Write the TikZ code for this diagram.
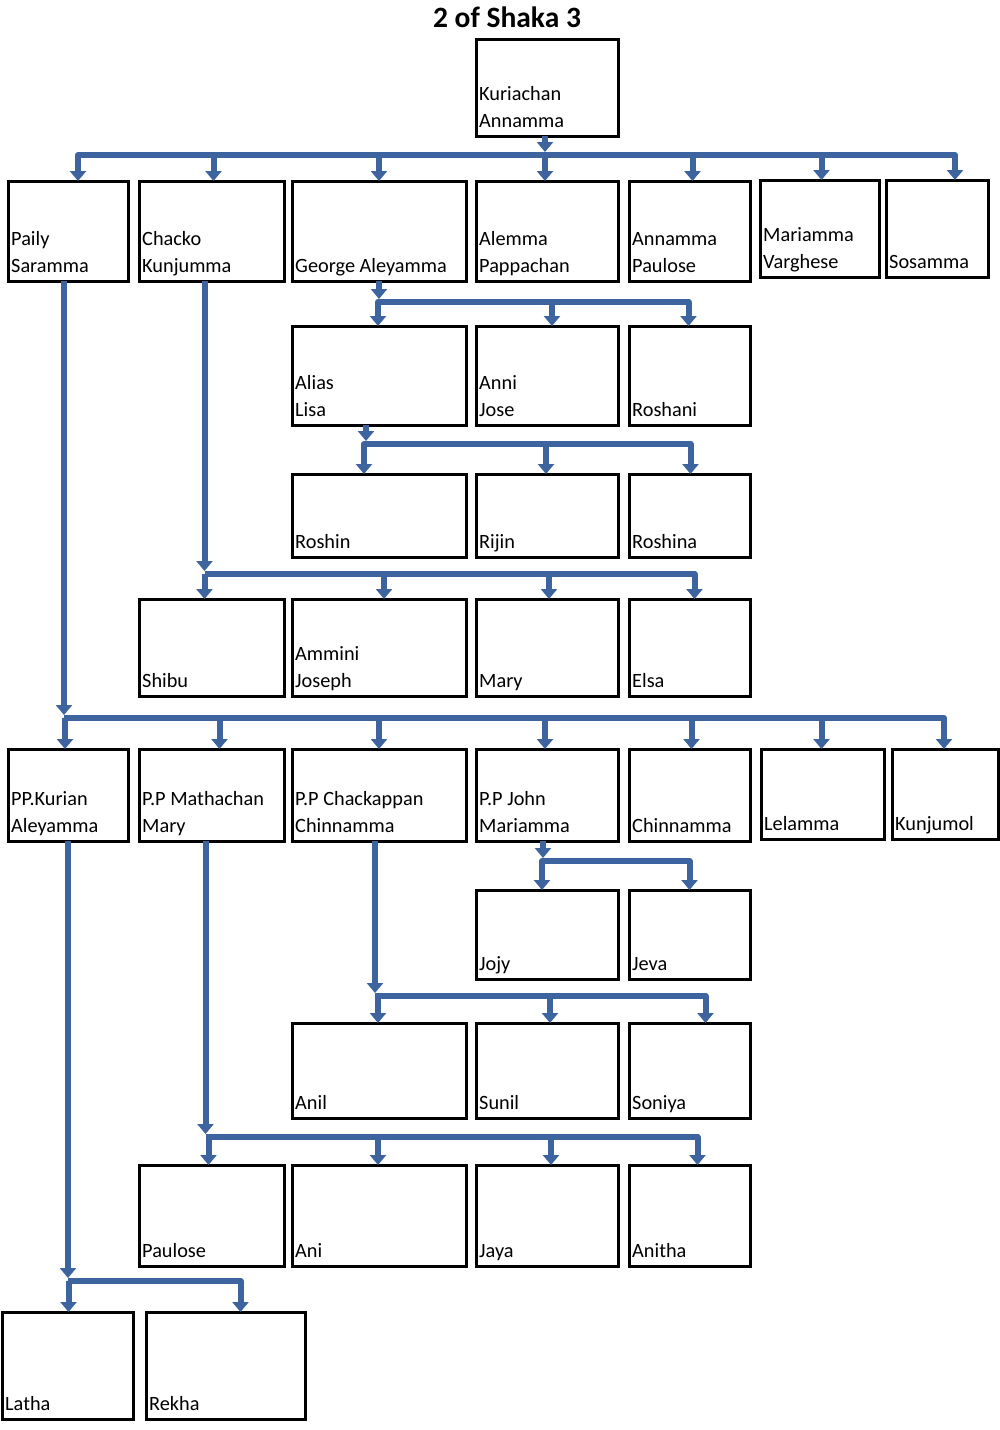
\documentclass[tikz,border=0pt]{standalone}
\usepackage{fontspec}
\setmainfont{Carlito}
\usepackage{tikz}
\usetikzlibrary{arrows.meta}

\definecolor{linkblue}{RGB}{62,100,160}
\newcommand\namefont{\fontsize{20.3}{26.5}\selectfont}

\tikzset{
  person/.style={draw, line width=3pt, anchor=north west, inner sep=0pt, outer sep=0pt},
  pname/.style={anchor=south west, align=left, inner xsep=3pt, inner ysep=3.5pt, text depth=5pt, font=\namefont},
  link/.style={draw=linkblue, line width=6pt, line join=round},
  linkarr/.style={link, -{Triangle[length=10pt,width=16pt]}},
}

\begin{document}
\begin{tikzpicture}[x=1pt,y=-1pt]
\useasboundingbox (0,0) rectangle (1000,1430);
\node[font=\bfseries\fontsize{29.5}{32}\selectfont] (title) at (507,17) {2 of Shaka 3};

% generation 1
\node[person, minimum width=142, minimum height=97, label={[pname]south west:{Kuriachan\\Annamma}}] (root) at (476,39) {};

% generation 2
\node[person, minimum width=120, minimum height=100, label={[pname]south west:{Paily\\Saramma}}] (paily) at (8,181) {};
\node[person, minimum width=145, minimum height=100, label={[pname]south west:{Chacko\\Kunjumma}}] (chacko) at (139,181) {};
\node[person, minimum width=174, minimum height=100, label={[pname]south west:{George Aleyamma}}] (george) at (292,181) {};
\node[person, minimum width=142, minimum height=100, label={[pname]south west:{Alemma\\Pappachan}}] (alemma) at (476,181) {};
\node[person, minimum width=121, minimum height=100, label={[pname]south west:{Annamma\\Paulose}}] (annamma) at (629,181) {};
\node[person, minimum width=119, minimum height=97, label={[pname]south west:{Mariamma\\Varghese}}] (mariamma) at (760,180) {};
\node[person, minimum width=102, minimum height=97, label={[pname]south west:{Sosamma}}] (sosamma) at (886,180) {};

% George's family
\node[person, minimum width=174, minimum height=99, label={[pname]south west:{Alias\\Lisa}}] (alias) at (292,326) {};
\node[person, minimum width=142, minimum height=99, label={[pname]south west:{Anni\\Jose}}] (anni) at (476,326) {};
\node[person, minimum width=121, minimum height=99, label={[pname]south west:{Roshani}}] (roshani) at (629,326) {};

\node[person, minimum width=174, minimum height=83, label={[pname]south west:{Roshin}}] (roshin) at (292,474) {};
\node[person, minimum width=142, minimum height=83, label={[pname]south west:{Rijin}}] (rijin) at (476,474) {};
\node[person, minimum width=121, minimum height=83, label={[pname]south west:{Roshina}}] (roshina) at (629,474) {};

% Chacko's family
\node[person, minimum width=145, minimum height=97, label={[pname]south west:{Shibu}}] (shibu) at (139,599) {};
\node[person, minimum width=174, minimum height=97, label={[pname]south west:{Ammini\\Joseph}}] (ammini) at (292,599) {};
\node[person, minimum width=142, minimum height=97, label={[pname]south west:{Mary}}] (mary) at (476,599) {};
\node[person, minimum width=121, minimum height=97, label={[pname]south west:{Elsa}}] (elsa) at (629,599) {};

% Paily's family
\node[person, minimum width=120, minimum height=92, label={[pname]south west:{PP.Kurian\\Aleyamma}}] (kurian) at (8,749) {};
\node[person, minimum width=145, minimum height=92, label={[pname]south west:{P.P Mathachan\\Mary}}] (mathachan) at (139,749) {};
\node[person, minimum width=174, minimum height=92, label={[pname]south west:{P.P Chackappan\\Chinnamma}}] (chackappan) at (292,749) {};
\node[person, minimum width=142, minimum height=92, label={[pname]south west:{P.P John\\Mariamma}}] (john) at (476,749) {};
\node[person, minimum width=121, minimum height=92, label={[pname]south west:{Chinnamma}}] (chinnamma) at (629,749) {};
\node[person, minimum width=123, minimum height=90, label={[pname]south west:{Lelamma}}] (lelamma) at (761,749) {};
\node[person, minimum width=106, minimum height=90, label={[pname]south west:{Kunjumol}}] (kunjumol) at (892,749) {};

\node[person, minimum width=142, minimum height=89, label={[pname]south west:{Jojy}}] (jojy) at (476,890) {};
\node[person, minimum width=121, minimum height=89, label={[pname]south west:{Jeva}}] (jeva) at (629,890) {};

\node[person, minimum width=174, minimum height=95, label={[pname]south west:{Anil}}] (anil) at (292,1023) {};
\node[person, minimum width=142, minimum height=95, label={[pname]south west:{Sunil}}] (sunil) at (476,1023) {};
\node[person, minimum width=121, minimum height=95, label={[pname]south west:{Soniya}}] (soniya) at (629,1023) {};

\node[person, minimum width=145, minimum height=101, label={[pname]south west:{Paulose}}] (paulose) at (139,1165) {};
\node[person, minimum width=174, minimum height=101, label={[pname]south west:{Ani}}] (ani) at (292,1165) {};
\node[person, minimum width=142, minimum height=101, label={[pname]south west:{Jaya}}] (jaya) at (476,1165) {};
\node[person, minimum width=121, minimum height=101, label={[pname]south west:{Anitha}}] (anitha) at (629,1165) {};

\node[person, minimum width=131, minimum height=107, label={[pname]south west:{Latha}}] (latha) at (2,1312) {};
\node[person, minimum width=159, minimum height=107, label={[pname]south west:{Rekha}}] (rekha) at (146,1312) {};

% bus junctions
\coordinate (j1) at ([xshift=-2]root.south |- 0,155);
\coordinate (j2) at (george.south |- 0,302);
\coordinate (j3) at ([xshift=-13]alias.south |- 0,444);
\coordinate (j4) at ([xshift=-7]chacko.south |- 0,574);
\coordinate (j5) at ([xshift=-4]paily.south |- 0,718);
\coordinate (j6) at ([xshift=-4]john.south |- 0,861);
\coordinate (j7) at ([xshift=-4]chackappan.south |- 0,996);
\coordinate (j8) at ([xshift=-6]mathachan.south |- 0,1137);
\coordinate (j9) at (kurian.south |- 0,1281);

% parent to bus
\draw[linkarr, shorten >=3pt] ([xshift=-2]root.south) -- (j1);
\draw[linkarr, shorten >=3pt] (george.south) -- (j2);
\draw[linkarr, shorten >=3pt] ([xshift=-13]alias.south) -- (j3);
\draw[linkarr, shorten >=3pt] ([xshift=-7]chacko.south) -- (j4);
\draw[linkarr, shorten >=3pt] ([xshift=-4]paily.south) -- (j5);
\draw[linkarr, shorten >=3pt] ([xshift=-4]john.south) -- (j6);
\draw[linkarr, shorten >=3pt] ([xshift=-4]chackappan.south) -- (j7);
\draw[linkarr, shorten >=3pt] ([xshift=-6]mathachan.south) -- (j8);
\draw[linkarr, shorten >=3pt] (kurian.south) -- (j9);

% bus to children
\foreach \kid/\dx in {paily/10, chacko/2, george/0, alemma/-2, annamma/3, mariamma/2, sosamma/18}
  \draw[linkarr] (j1) -| ([xshift=\dx]\kid.north);
\foreach \kid/\dx in {alias/-1, anni/5, roshani/-1}
  \draw[linkarr] (j2) -| ([xshift=\dx]\kid.north);
\foreach \kid/\dx in {roshin/-15, rijin/-1, roshina/1}
  \draw[linkarr] (j3) -| ([xshift=\dx]\kid.north);
\foreach \kid/\dx in {shibu/-7, ammini/5, mary/2, elsa/5}
  \draw[linkarr] (j4) -| ([xshift=\dx]\kid.north);
\foreach \kid/\dx in {kurian/-3, mathachan/8, chackappan/0, john/-2, chinnamma/2, lelamma/-1, kunjumol/-1}
  \draw[linkarr] (j5) -| ([xshift=\dx]\kid.north);
\foreach \kid/\dx in {jojy/-5, jeva/0}
  \draw[linkarr] (j6) -| ([xshift=\dx]\kid.north);
\foreach \kid/\dx in {anil/-1, sunil/3, soniya/16}
  \draw[linkarr] (j7) -| ([xshift=\dx]\kid.north);
\foreach \kid/\dx in {paulose/-3, ani/-1, jaya/4, anitha/8}
  \draw[linkarr] (j8) -| ([xshift=\dx]\kid.north);
\foreach \kid/\dx in {latha/1, rekha/15}
  \draw[linkarr] (j9) -| ([xshift=\dx]\kid.north);
\end{tikzpicture}
\end{document}
